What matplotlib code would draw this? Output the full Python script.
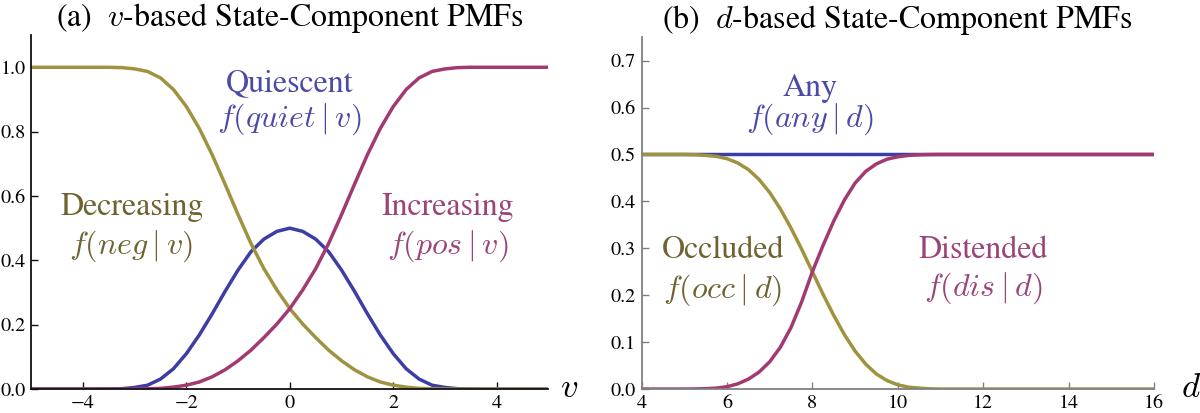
import matplotlib
matplotlib.use("Agg")
import matplotlib.pyplot as plt

plt.rcParams['font.family'] = 'serif'
plt.rcParams['font.serif'] = ['STIXGeneral', 'Liberation Serif', 'DejaVu Serif']
plt.rcParams['mathtext.fontset'] = 'cm'

# ---- panel (a): v-based PMFs ----
v_vals = [-5.0, -4.5, -4.0, -3.75, -3.5, -3.25, -3.0, -2.75, -2.5, -2.25, -2.0, -1.75,
          -1.5, -1.25, -1.0, -0.75, -0.5, -0.25, 0.0, 0.25, 0.5, 0.75, 1.0, 1.25,
          1.5, 1.75, 2.0, 2.25, 2.5, 2.75, 3.0, 3.25, 3.5, 3.75, 4.0, 4.5, 5.0]
f_pos = [0.0, 0.0, 0.0, 0.0, 0.0, 0.0, 0.0003, 0.001, 0.002, 0.006, 0.012, 0.022,
         0.038, 0.060, 0.088, 0.121, 0.160, 0.202, 0.25, 0.308, 0.374, 0.452, 0.542, 0.636,
         0.728, 0.81, 0.878, 0.931, 0.967, 0.987, 0.995, 0.999, 1.0, 1.0, 1.0, 1.0, 1.0]
f_neg = [1.0, 1.0, 1.0, 1.0, 1.0, 0.999, 0.995, 0.987, 0.967, 0.931, 0.878, 0.81,
         0.728, 0.636, 0.542, 0.452, 0.374, 0.308, 0.25, 0.202, 0.160, 0.121, 0.088, 0.060,
         0.038, 0.022, 0.012, 0.006, 0.002, 0.001, 0.0003, 0.0, 0.0, 0.0, 0.0, 0.0, 0.0]
f_quiet = [0.0, 0.0, 0.0, 0.0, 0.0003, 0.001, 0.005, 0.012, 0.031, 0.063, 0.11, 0.168,
           0.234, 0.304, 0.37, 0.427, 0.466, 0.49, 0.5, 0.49, 0.466, 0.427, 0.37, 0.304,
           0.234, 0.168, 0.11, 0.063, 0.031, 0.012, 0.005, 0.001, 0.0003, 0.0, 0.0, 0.0, 0.0]
v_ticks = [-4, -2, 0, 2, 4]
a_yticks = [0.0, 0.2, 0.4, 0.6, 0.8, 1.0]

# ---- panel (b): d-based PMFs ----
d_vals = [4.0, 4.5, 5.0, 5.25, 5.5, 5.75, 6.0, 6.25, 6.5, 6.75, 7.0, 7.25, 7.5, 7.75,
          8.0, 8.25, 8.5, 8.75, 9.0, 9.25, 9.5, 9.75, 10.0, 10.25, 10.5, 10.75, 11.0,
          12.0, 13.0, 14.0, 15.0, 16.0]
f_occ = [0.5, 0.5, 0.5, 0.4995, 0.498, 0.496, 0.491, 0.482, 0.468, 0.447, 0.419, 0.384,
         0.343, 0.298, 0.25, 0.202, 0.157, 0.116, 0.081, 0.053, 0.032, 0.018, 0.009,
         0.004, 0.002, 0.0005, 0.0, 0.0, 0.0, 0.0, 0.0, 0.0]
f_dis = [0.0, 0.0, 0.0, 0.0002, 0.0007, 0.002, 0.005, 0.011, 0.021, 0.036, 0.058, 0.089,
         0.131, 0.186, 0.25, 0.306, 0.358, 0.403, 0.439, 0.464, 0.48, 0.49, 0.495,
         0.498, 0.4993, 0.4998, 0.5, 0.5, 0.5, 0.5, 0.5, 0.5]
f_any = [0.5] * len(d_vals)
d_ticks = [4, 6, 8, 10, 12, 14, 16]
b_yticks = [0.0, 0.1, 0.2, 0.3, 0.4, 0.5, 0.6, 0.7]

C_OLIVE = '#A09340'
C_MAG = '#A23A72'
C_BLUE = '#3D3DA6'
T_OLIVE = '#6E6330'
T_MAG = '#9A4478'
T_BLUE = '#4A4AA8'

LW = 2.5
FS_TXT = 23
FS_TITLE = 23
FS_TICK = 14.5

fig = plt.figure(figsize=(12, 4.13), dpi=100)
ax1 = fig.add_axes([0.026, 0.058, 0.431, 0.857])
ax2 = fig.add_axes([0.5346, 0.058, 0.4271, 0.852])


def style(ax, spine_color):
    for s in ['top', 'right']:
        ax.spines[s].set_visible(False)
    for s in ['left', 'bottom']:
        ax.spines[s].set_color(spine_color)
        ax.spines[s].set_linewidth(1.3)
    ax.tick_params(direction='in', length=5, width=1, color=spine_color,
                   labelsize=FS_TICK, pad=4)


# panel a
ax1.plot(v_vals, f_quiet, color=C_BLUE, lw=LW, solid_capstyle='butt')
ax1.plot(v_vals, f_neg, color=C_OLIVE, lw=LW, solid_capstyle='butt')
ax1.plot(v_vals, f_pos, color=C_MAG, lw=LW, solid_capstyle='butt')
ax1.set_xlim(-5, 5)
ax1.set_ylim(0, 1.1)
ax1.set_xticks(v_ticks)
ax1.set_xticklabels(['\u22124', '\u22122', '0', '2', '4'])
ax1.set_yticks(a_yticks)
ax1.set_yticklabels(['%.1f' % t for t in a_yticks])
style(ax1, '#111111')
ax1.set_title(r'(a)  $v$-based State-Component PMFs', fontsize=FS_TITLE, pad=3)
ax1.text(1.04, 0.0, r'$v$', transform=ax1.transAxes, fontsize=25,
         ha='center', va='center')
ax1.text(0.0, 0.95, 'Quiescent', color=T_BLUE, fontsize=FS_TXT, ha='center', va='center')
ax1.text(0.0, 0.84, r'$f(quiet\mid v)$', color=T_BLUE, fontsize=FS_TXT, ha='center', va='center')
ax1.text(-3.05, 0.565, 'Decreasing', color=T_OLIVE, fontsize=FS_TXT, ha='center', va='center')
ax1.text(-3.07, 0.445, r'$f(neg\mid v)$', color=T_OLIVE, fontsize=FS_TXT, ha='center', va='center')
ax1.text(3.05, 0.565, 'Increasing', color=T_MAG, fontsize=FS_TXT, ha='center', va='center')
ax1.text(3.05, 0.445, r'$f(pos\mid v)$', color=T_MAG, fontsize=FS_TXT, ha='center', va='center')

# panel b
ax2.plot(d_vals, f_any, color=C_BLUE, lw=LW, solid_capstyle='butt')
ax2.plot(d_vals, f_occ, color=C_OLIVE, lw=LW, solid_capstyle='butt')
ax2.plot(d_vals, f_dis, color=C_MAG, lw=LW, solid_capstyle='butt')
ax2.set_xlim(4, 16)
ax2.set_ylim(0, 0.75)
ax2.set_xticks(d_ticks)
ax2.set_yticks(b_yticks)
ax2.set_yticklabels(['%.1f' % t for t in b_yticks])
style(ax2, '#808080')
ax2.tick_params(labelcolor='black')
ax2.set_title(r'(b)  $d$-based State-Component PMFs', fontsize=FS_TITLE, pad=5)
ax2.text(1.073, 0.0, r'$d$', transform=ax2.transAxes, fontsize=25,
         ha='center', va='center')
ax2.text(7.95, 0.64, 'Any', color=T_BLUE, fontsize=FS_TXT, ha='center', va='center')
ax2.text(7.95, 0.575, r'$f(any\mid d)$', color=T_BLUE, fontsize=FS_TXT, ha='center', va='center')
ax2.text(5.9, 0.295, 'Occluded', color=T_OLIVE, fontsize=FS_TXT, ha='center', va='center')
ax2.text(5.9, 0.21, r'$f(occ\mid d)$', color=T_OLIVE, fontsize=FS_TXT, ha='center', va='center')
ax2.text(12.0, 0.295, 'Distended', color=T_MAG, fontsize=FS_TXT, ha='center', va='center')
ax2.text(12.0, 0.215, r'$f(dis\mid d)$', color=T_MAG, fontsize=FS_TXT, ha='center', va='center')

fig.savefig('out.png', dpi=100)
